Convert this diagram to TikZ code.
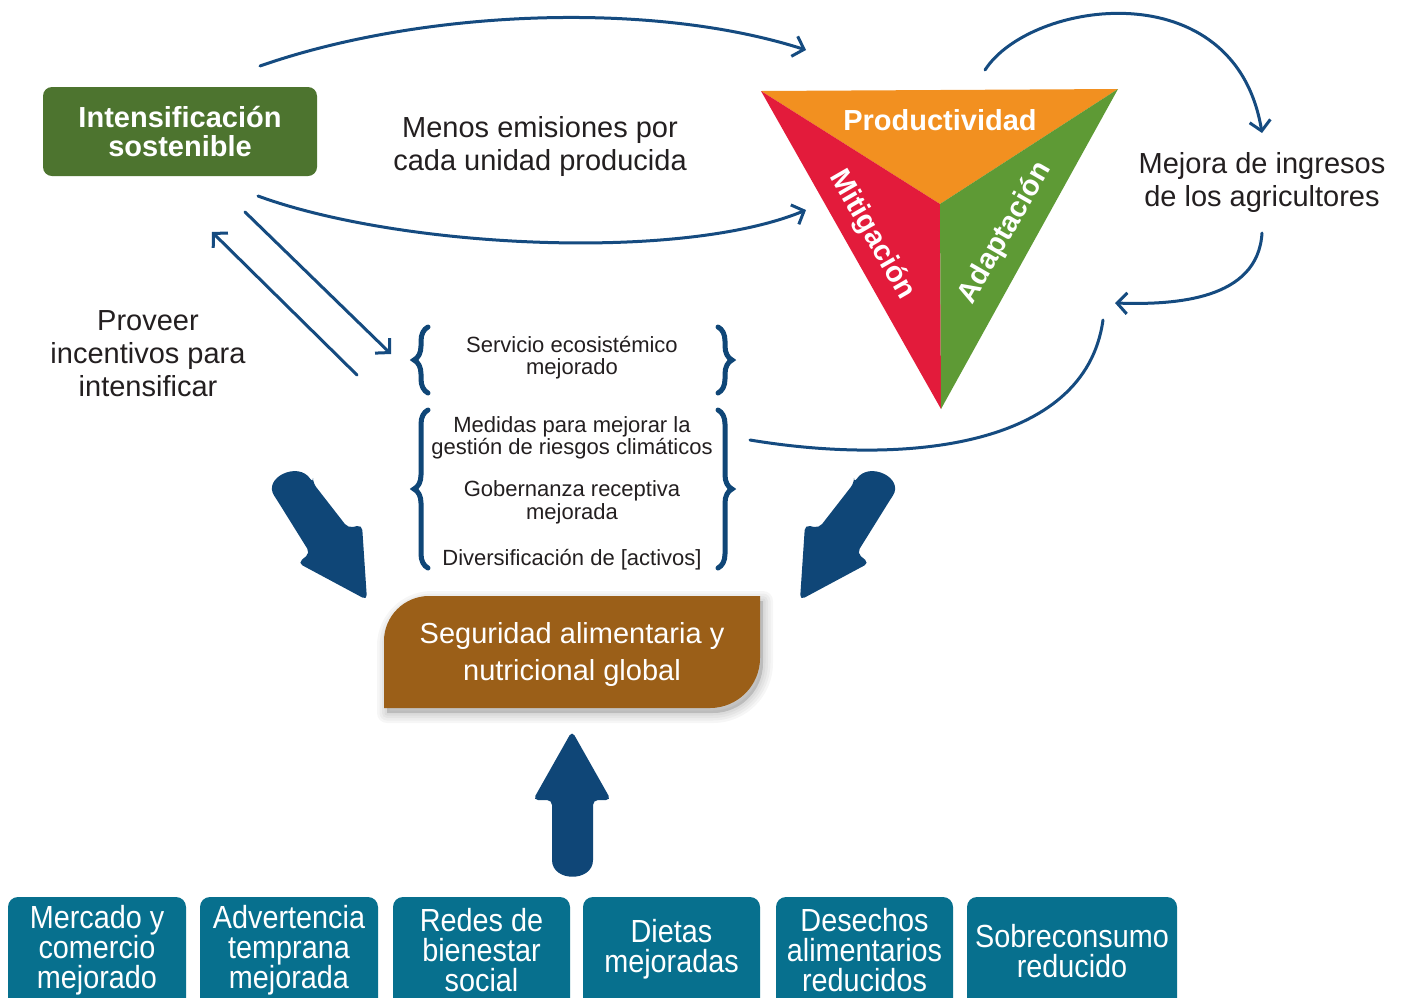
\documentclass[tikz,border=0pt]{standalone}
\usepackage{fontspec}
\setmainfont{Liberation Sans}
\newfontfamily\condfont{Liberation Sans}[FakeStretch=0.9]
\usetikzlibrary{arrows.meta,decorations.pathreplacing}
\definecolor{txt}{HTML}{231F20}
\definecolor{boxgreen}{HTML}{4D742F}
\definecolor{triorange}{HTML}{F29020}
\definecolor{trired}{HTML}{E31B3B}
\definecolor{trigreen}{HTML}{5E9A35}
\definecolor{brownbox}{HTML}{9B5F18}
\definecolor{tealbox}{HTML}{07708E}
\definecolor{bigblue}{HTML}{0F4677}
\definecolor{arrblue}{HTML}{154B80}
\tikzset{
  lbl/.style={text=txt, font=\fontsize{29}{33}\selectfont, align=center, inner sep=0pt},
  small/.style={text=txt, font=\fontsize{22}{22.5}\selectfont, align=center, inner sep=0pt},
  gbox/.style={fill=boxgreen, rounded corners=9pt, minimum width=274pt, minimum height=89pt,
     text=white, font=\bfseries\fontsize{29}{29}\selectfont, align=center, inner sep=0pt},
  trilbl/.style={text=white, font=\bfseries\fontsize{29}{29}\selectfont, inner sep=0pt},
  conn/.style={draw=arrblue, line width=3pt, line cap=round, -{Straight Barb[length=10pt,width=21pt]}},
  connplain/.style={draw=arrblue, line width=3pt, line cap=round},
  bracestyle/.style={draw=bigblue, line width=5pt, line cap=round, decorate, decoration={brace, amplitude=14pt}},
  bigarrow/.style={fill=bigblue, rounded corners=5pt},
  bbox/.style={fill=tealbox, rounded corners=10pt},
  btext/.style={text=white, font=\condfont\fontsize{32}{30}\selectfont, align=center, inner sep=0pt},
  brtext/.style={text=white, font=\fontsize{29}{37}\selectfont, align=center, inner sep=0pt},
  shadowstyle/.style={draw=black, fill=black, opacity=0.035, line join=round}
}
\begin{document}
\begin{tikzpicture}[x=1pt,y=-1pt]
\useasboundingbox (0,0) rectangle (1406,997);
\fill[white] (0,0) rectangle (1406,997);
\clip (0,0) rectangle (1406,997);

% green box
\node[gbox] (intens) at (180,131.5) {Intensificación\\sostenible};

% labels
\node[lbl] (menos) at (540,146.5) {Menos emisiones por\\cada unidad producida};
\node[lbl] (proveer) at (148,354) {Proveer\\incentivos para\\intensificar};
\node[lbl] (mejora) at (1262,182.5) {Mejora de ingresos\\de los agricultores};

% triangle
\coordinate (tl) at (761,91);
\coordinate (tr) at (1118,89);
\coordinate (bt) at (941,409);
\coordinate (cc) at (940,204);
\fill[triorange] (tl) -- (tr) -- (cc) -- cycle;
\fill[trired] (tl) -- (cc) -- (bt) -- cycle;
\fill[trigreen] (tr) -- (cc) -- (bt) -- cycle;
\node[trilbl] (prod) at (940,120) {Productividad};
\node[trilbl, rotate=-60] (mitig) at (872,235) {Mitigación};
\node[trilbl, rotate=60] (adapt) at (1005,233) {Adaptación};

% thin connectors
\coordinate (a1s) at (260,66);  \coordinate (a1e) at (806,50);
\coordinate (a2s) at (258,196); \coordinate (a2e) at (806,210);
\coordinate (d1s) at (245,212); \coordinate (d1e) at (391,354);
\coordinate (d2s) at (357,375); \coordinate (d2e) at (212,232);
\coordinate (r1s) at (985,70);  \coordinate (r1e) at (1262,133);
\coordinate (r2s) at (1262,233); \coordinate (r2e) at (1115,303);
\coordinate (r3s) at (1103,320); \coordinate (r3e) at (750,440);
\draw[conn] (a1s) .. controls (420,10) and (650,0) .. (a1e);
\draw[conn] (a2s) .. controls (400,248) and (680,262) .. (a2e);
\draw[conn] (d1s) -- (d1e);
\draw[conn] (d2s) -- (d2e);
\draw[conn] (r1s) .. controls (1030,0) and (1235,-30) .. (r1e);
\draw[conn] (r2s) .. controls (1258,300) and (1175,305) .. (r2e);
\draw[connplain] (r3s) .. controls (1085,450) and (900,465) .. (r3e);

% braces
\coordinate (bl1s) at (428,393); \coordinate (bl1e) at (428,327);
\coordinate (br1s) at (718,327); \coordinate (br1e) at (718,393);
\coordinate (bl2s) at (428,568); \coordinate (bl2e) at (428,410);
\coordinate (br2s) at (718,410); \coordinate (br2e) at (718,568);
\draw[bracestyle] (bl1s) -- (bl1e);
\draw[bracestyle] (br1s) -- (br1e);
\draw[bracestyle] (bl2s) -- (bl2e);
\draw[bracestyle] (br2s) -- (br2e);
\node[small] (s1) at (572,357.5) {Servicio ecosistémico\\mejorado};
\node[small] (s2) at (572,438) {Medidas para mejorar la\\gestión de riesgos climáticos};
\node[small] (s3) at (572,502.5) {Gobernanza receptiva\\mejorada};
\node[small] (s4) at (572,560) {Diversificación de [activos]};

% big arrows
\fill[bigarrow] (313,483) -- (348,528) -- (362,525) -- (367,600) -- (298,563) -- (310,553) -- (277,500)
   .. controls (262.3,477.7) and (298.3,460.7) .. (313,483) -- cycle;
\fill[bigarrow] (854,483) -- (819,528) -- (805,525) -- (800,600) -- (869,563) -- (857,553) -- (890,500)
   .. controls (904.7,477.7) and (868.7,460.7) .. (854,483) -- cycle;
\fill[bigarrow] (552,855) -- (552,800) -- (533,800) -- (572,731) -- (611,800) -- (593,800) -- (593,855)
   .. controls (593,882.3) and (552,882.3) .. (552,855) -- cycle;

% brown box shadow
\foreach \w in {20,15,10,5} {
  \filldraw[shadowstyle, line width=\w pt, shift={(3,5)}]
  (384,708) -- (384,641) .. controls (384,616.2) and (404.2,596) .. (429,596) -- (760,596) -- (760,658)
  .. controls (760,685.6) and (737.6,708) .. (710,708) -- cycle;
}
% brown box
\fill[brownbox]
  (384,708) -- (384,641) .. controls (384,616.2) and (404.2,596) .. (429,596) -- (760,596) -- (760,658)
  .. controls (760,685.6) and (737.6,708) .. (710,708) -- cycle;
\node[brtext] (seg) at (572,654.5) {Seguridad alimentaria y\\nutricional global};

% bottom boxes
\fill[bbox] (8,897) rectangle (186,1020);
\fill[bbox] (200,897) rectangle (378,1020);
\fill[bbox] (393,897) rectangle (570,1020);
\fill[bbox] (583,897) rectangle (760,1020);
\fill[bbox] (776,897) rectangle (953,1020);
\fill[bbox] (967,897) rectangle (1177,1020);
\node[btext] (b1) at (97,950.5) {Mercado y\\comercio\\mejorado};
\node[btext] (b2) at (289,950.5) {Advertencia\\temprana\\mejorada};
\node[btext] (b3) at (481.5,950.5) {Redes de\\bienestar\\social};
\node[btext] (b4) at (671.5,949.5) {Dietas\\mejoradas};
\node[btext] (b5) at (864.5,950.5) {Desechos\\alimentarios\\reducidos};
\node[btext] (b6) at (1072,951) {Sobreconsumo\\reducido};
\end{tikzpicture}
\end{document}
